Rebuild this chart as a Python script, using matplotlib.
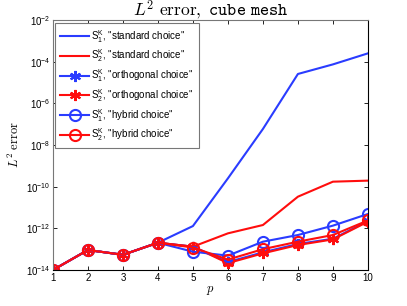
import matplotlib
matplotlib.use("Agg")
import matplotlib.pyplot as plt
import numpy as np

plt.rcParams['font.family'] = ['Liberation Sans', 'DejaVu Sans']
plt.rcParams['mathtext.fontset'] = 'cm'

p = [1, 2, 3, 4, 5, 6, 7, 8, 9, 10]
# log10 of L2 error
s1_standard = [-14.0, -13.04, -13.27, -12.69, -11.89, -9.6, -7.23, -4.59, -4.13, -3.6]
s2_standard = [-14.0, -13.04, -13.27, -12.69, -12.88, -12.24, -11.84, -10.48, -9.76, -9.71]
s1_orthogonal = [-14.0, -13.04, -13.27, -12.69, -12.88, -13.62, -13.15, -12.75, -12.5, -11.65]
s2_orthogonal = [-14.0, -13.04, -13.27, -12.69, -12.88, -13.67, -13.2, -12.8, -12.53, -11.68]
s1_hybrid = [-14.0, -13.04, -13.27, -12.69, -13.12, -13.31, -12.64, -12.32, -11.87, -11.31]
s2_hybrid = [-14.0, -13.04, -13.27, -12.69, -12.92, -13.5, -13.0, -12.64, -12.32, -11.62]

blue = '#2a3cff'
red = '#ff0d0d'

fig = plt.figure(figsize=(4.07, 3.06), dpi=100)
ax = fig.add_axes([0.130, 0.1176, 0.774, 0.817])

def lab(i, name):
    return r'$\mathregular{S_{%d}^{K}}$, "%s"' % (i, name)

asterisk = (6, 2, 0)
series = [
    (s1_standard, blue, None, lab(1, 'standard choice')),
    (s2_standard, red, None, lab(2, 'standard choice')),
    (s1_orthogonal, blue, '*', lab(1, 'orthogonal choice')),
    (s2_orthogonal, red, '*', lab(2, 'orthogonal choice')),
    (s1_hybrid, blue, 'o', lab(1, 'hybrid choice')),
    (s2_hybrid, red, 'o', lab(2, 'hybrid choice')),
]
for vals, c, m, l in series:
    y = 10.0 ** np.array(vals)
    if m == 'o':
        ax.semilogy(p, y, color=c, lw=1.5, marker='o', ms=8, mfc='none', mew=1.5, label=l)
    elif m == '*':
        ax.semilogy(p, y, color=c, lw=1.5, marker=asterisk, ms=8, mew=1.5, label=l)
    else:
        ax.semilogy(p, y, color=c, lw=1.5, label=l)

ax.set_xlim(1, 10)
ax.set_ylim(1e-14, 1e-2)
ax.set_xticks(p)
ax.set_xticklabels([str(v) for v in p], fontsize=7)
yt = [1e-14, 1e-12, 1e-10, 1e-8, 1e-6, 1e-4, 1e-2]
ax.set_yticks(yt)
ax.set_yticklabels([r'$\mathregular{10^{%d}}$' % int(np.log10(v)) for v in yt], fontsize=7)
ax.yaxis.set_minor_locator(matplotlib.ticker.NullLocator())
ax.tick_params(direction='in', top=True, right=True, length=3, width=0.6, pad=2)
for s in ['left', 'top']:
    ax.spines[s].set_color('#777777')
for s in ['bottom', 'right']:
    ax.spines[s].set_color('black')
for s in ax.spines.values():
    s.set_linewidth(0.8)

ax.set_xlabel(r'$p$', fontsize=9, labelpad=1)
ax.set_ylabel(r'$L^2\ \mathrm{error}$', fontsize=9, labelpad=3)
ax.set_title(r'$L^2\ \mathrm{error,}\ \mathtt{cube\ mesh}$', fontsize=12.5, pad=3)

leg = ax.legend(loc='upper left', fontsize=7, handlelength=3.0, handletextpad=0.2,
                labelspacing=0.3,
                fancybox=False, edgecolor='#777777', framealpha=1, borderpad=0.5,
                bbox_to_anchor=(0.008, 0.988), borderaxespad=0.0)
leg.get_frame().set_linewidth(0.8)

fig.savefig('out.png', dpi=100)
